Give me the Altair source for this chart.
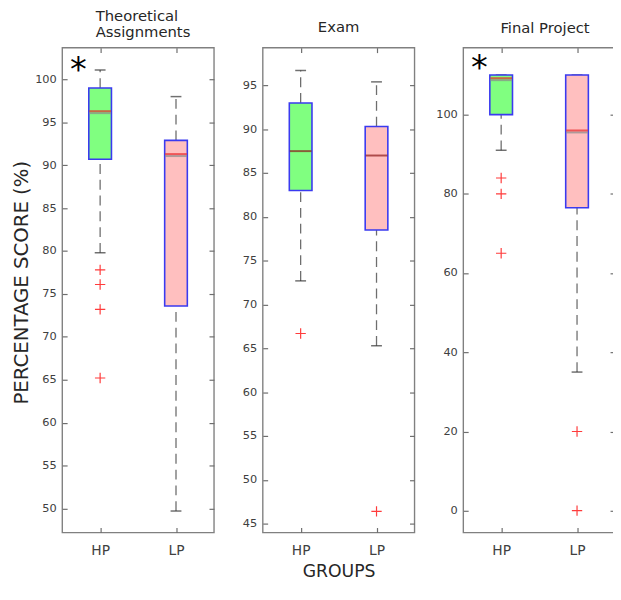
import altair as alt
import pandas as pd

FONT = "DejaVu Sans"

groups = ["HP", "LP"]
box_fills = ["#80ff80", "#ffbfbf"]

# [lower whisker, Q1, median, Q3, upper whisker]
theory_hp = [79.8, 90.7, 96.3, 99.0, 101.1]
theory_lp = [49.7, 73.6, 91.3, 92.9, 98.0]
exam_hp = [72.7, 83.0, 87.5, 93.0, 96.7]
exam_lp = [65.3, 78.5, 87.0, 90.3, 95.4]
final_hp = [91.0, 100.0, 109.2, 110.0, 110.0]
final_lp = [35.0, 76.5, 96.0, 110.0, 110.0]

# outliers
theory_hp_out = [77.8, 76.1, 73.2, 65.2]
theory_lp_out = []
exam_hp_out = [66.7]
exam_lp_out = [46.4]
final_hp_out = [84.0, 80.0, 65.0]
final_lp_out = [20.0, 0.0]

theory_ticks = [50, 55, 60, 65, 70, 75, 80, 85, 90, 95, 100]
exam_ticks = [45, 50, 55, 60, 65, 70, 75, 80, 85, 90, 95]
final_ticks = [0, 20, 40, 60, 80, 100]

theory_domain = [47.2, 103.7]
exam_domain = [44.0, 99.3]
final_domain = [-5.5, 116.9]

theory_star = 102.95
final_star = 115.8

PW, PH = 154, 492


def box_df(hp, lp):
    rows = []
    for g, s in zip(groups, [hp, lp]):
        rows.append(dict(group=g, lo=s[0], q1=s[1], med=s[2], q3=s[3], hi=s[4]))
    return pd.DataFrame(rows)


def out_df(hp, lp):
    rows = [dict(group="HP", v=v) for v in hp] + [dict(group="LP", v=v) for v in lp]
    return pd.DataFrame(rows, columns=["group", "v"])


def make_axis(orient, labels, values=None, title=None, **extra):
    kw = dict(
        orient=orient, labels=labels, domain=False, grid=False, ticks=True,
        tickSize=5, offset=-5, tickColor="#6e6e6e", tickWidth=1.2,
        labelFont=FONT, labelFontSize=11.5, labelColor="#404040",
        minExtent=0, title=title,
    )
    if values is not None:
        kw["values"] = values
    kw.update(extra)
    return alt.Axis(**kw)


def panel(title, hp, lp, hp_out, lp_out, domain, ticks, star=None,
          ytitle=None, xtitle=None, median_color="#e8282b", shadow=True):
    bdf = box_df(hp, lp)
    odf = out_df(hp_out, lp_out)
    xs = alt.Scale(type="point", padding=0.5, domain=groups)
    ys = alt.Scale(domain=domain, nice=False, zero=False)

    y_left_extra = dict(labelPadding=6)
    if ytitle:
        y_left_extra.update(titleFont=FONT, titleFontSize=20, titleFontWeight="normal",
                            titleColor="#262626", titlePadding=3, titleY=238)
    x_bottom_extra = dict(labelPadding=11, labelAngle=0, labelFontSize=14)
    if xtitle:
        x_bottom_extra.update(titleFont=FONT, titleFontSize=17.5, titleFontWeight="normal",
                              titleColor="#262626", titlePadding=6)

    x_bottom = make_axis("bottom", True, title=xtitle, **x_bottom_extra)
    x_top = make_axis("top", False)
    y_left = make_axis("left", True, values=ticks, title=ytitle, **y_left_extra)
    y_right = make_axis("right", False, values=ticks)

    base = alt.Chart(bdf)
    xn = alt.X("group:N", scale=xs, axis=None)

    upper = base.mark_rule(strokeDash=[10, 6], color="#6e6e6e", strokeWidth=1.3).encode(
        x=alt.X("group:N", scale=xs, axis=x_bottom),
        y=alt.Y("q3:Q", scale=ys, axis=y_left), y2="hi:Q")
    lower = base.mark_rule(strokeDash=[10, 6], color="#6e6e6e", strokeWidth=1.3).encode(
        x=alt.X("group:N", scale=xs, axis=x_top),
        y=alt.Y("lo:Q", scale=ys, axis=y_right), y2="q1:Q")
    cap_hi = base.mark_tick(size=11, thickness=1.5, color="#333333").encode(
        x=xn, y=alt.Y("hi:Q", scale=ys, axis=None))
    cap_lo = base.mark_tick(size=11, thickness=1.5, color="#333333").encode(
        x=xn, y=alt.Y("lo:Q", scale=ys, axis=None))
    box = base.mark_bar(size=23, stroke="#3a3af0", strokeWidth=1.6).encode(
        x=xn, y=alt.Y("q1:Q", scale=ys, axis=None), y2="q3:Q",
        fill=alt.Fill("group:N", scale=alt.Scale(domain=groups, range=box_fills), legend=None))
    layers = [upper, lower, cap_hi, cap_lo, box]
    if shadow:
        layers.append(base.mark_tick(size=22, thickness=2, color="#8a8a8a", yOffset=2).encode(
            x=xn, y=alt.Y("med:Q", scale=ys, axis=None)))
    layers.append(base.mark_tick(size=22, thickness=2, color=median_color).encode(
        x=xn, y=alt.Y("med:Q", scale=ys, axis=None)))
    layers.append(alt.Chart(odf).mark_point(
        shape="M-1,0L1,0M0,-1L0,1", size=110, filled=False, stroke="#ff3b3b",
        strokeWidth=1.2, opacity=1).encode(x=xn, y=alt.Y("v:Q", scale=ys, axis=None)))
    if star is not None:
        sdf = pd.DataFrame({"group": ["HP"], "v": [star]})
        layers.append(alt.Chart(sdf).mark_text(
            text="*", font=FONT, fontSize=34, dx=-22, color="black", baseline="top").encode(
            x=xn, y=alt.Y("v:Q", scale=ys, axis=None)))

    return alt.layer(*layers).resolve_scale(x="shared", y="shared").resolve_axis(
        x="independent", y="independent").properties(width=PW, height=PH, title=title)


def ttl(text, anchor, dx, offset):
    return alt.TitleParams(text=text, font=FONT, fontSize=15, fontWeight="normal",
                           color="#262626", anchor=anchor, dx=dx, offset=offset,
                           frame="group", baseline="bottom", lineHeight=16)


p1 = panel(ttl(["Theoretical", "Assignments"], "start", 34, -8), theory_hp, theory_lp,
           theory_hp_out, theory_lp_out, theory_domain, theory_ticks, star=theory_star,
           ytitle="PERCENTAGE SCORE (%)")
p2 = panel(ttl("Exam", "middle", 0, -3), exam_hp, exam_lp, exam_hp_out, exam_lp_out,
           exam_domain, exam_ticks, xtitle="GROUPS", median_color="#8c1a1a", shadow=False)
p3 = panel(ttl("Final Project", "middle", 6, -3.5), final_hp, final_lp, final_hp_out,
           final_lp_out, final_domain, final_ticks, star=final_star)

chart = alt.hconcat(p1, p2, p3, spacing=49.5, bounds="flush",
                    padding={"left": 3, "top": -4, "right": -4, "bottom": -3}).configure_view(
    stroke="#808080", strokeWidth=1.4)

chart.save("out.html", embed_options={"renderer": "svg", "actions": False})
